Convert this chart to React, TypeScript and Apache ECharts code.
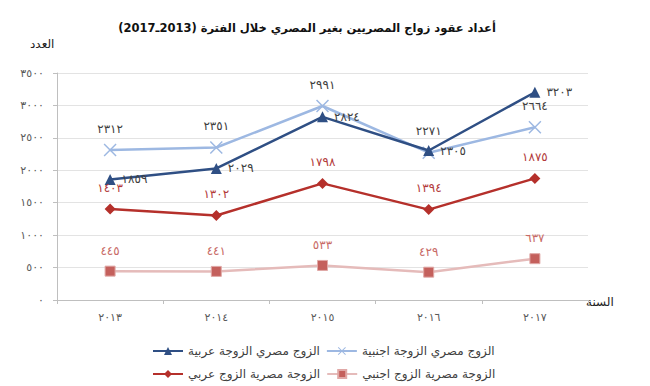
import React, { useEffect, useRef } from "react";
import * as echarts from "echarts";

const years = ["2013", "2014", "2015", "2016", "2017"];
const husbandEgyWifeArab = [1859, 2029, 2824, 2305, 3203];
const husbandEgyWifeForeign = [2312, 2351, 2991, 2271, 2664];
const wifeEgyHusbandArab = [1403, 1302, 1798, 1394, 1875];
const wifeEgyHusbandForeign = [445, 441, 533, 429, 637];
const yMin = 0;
const yMax = 3500;
const yStep = 500;

const names = [
  "الزوج مصري الزوجة عربية",
  "الزوج مصري الزوجة اجنبية",
  "الزوجة مصرية الزوج عربي",
  "الزوجة مصرية الزوج اجنبي",
];
const titleText = "أعداد عقود زواج المصريين بغير المصري خلال الفترة (2013ـ2017)";
const yName = "العدد";
const xName = "السنة";

const toArabicDigits = (v: number | string) =>
  String(v).replace(/[0-9]/g, (d) => String.fromCharCode(0x0660 + Number(d)));

const FONT = "'DejaVu Sans', sans-serif";
const xSymbol =
  "path://M0,0.8 L0.8,0 L5,4.2 L9.2,0 L10,0.8 L5.8,5 L10,9.2 L9.2,10 L5,5.8 L0.8,10 L0,9.2 L4.2,5 Z";

export default function App() {
  const ref = useRef<HTMLDivElement>(null);
  useEffect(() => {
    document.body.style.margin = "0";
    if (!ref.current) return;
    const chart = echarts.init(ref.current, undefined, { renderer: "svg" });
    const labelBase = {
      show: true,
      fontSize: 12,
      fontFamily: FONT,
      formatter: (p: any) => toArabicDigits(p.value),
    };
    const legendBase = {
      itemWidth: 30,
      itemHeight: 10,
      itemGap: 6,
      textStyle: { fontSize: 12, color: "#404040", fontFamily: FONT },
    };
    chart.setOption({
      animation: false,
      backgroundColor: "#ffffff",
      textStyle: { fontFamily: FONT },
      title: {
        text: "\u202B" + titleText + "\u202C",
        left: 302,
        textAlign: "center",
        top: 17,
        textStyle: { fontSize: 11.5, fontWeight: "bold", color: "#111", fontFamily: FONT },
      },
      grid: { left: 57, right: 62, top: 73, bottom: 86 },
      legend: [
        { ...legendBase, data: [names[0], names[1]], left: 147, top: 340 },
        { ...legendBase, data: [names[2], names[3]], left: 147, top: 363 },
      ],
      xAxis: {
        type: "category",
        data: years,
        boundaryGap: true,
        axisLine: { lineStyle: { color: "#BFBFBF" } },
        axisTick: { show: true, length: 4, lineStyle: { color: "#BFBFBF" } },
        axisLabel: {
          color: "#595959",
          fontSize: 11,
          margin: 12,
          formatter: (v: string) => toArabicDigits(v),
        },
      },
      yAxis: {
        type: "value",
        min: yMin,
        max: yMax,
        interval: yStep,
        axisLine: { show: true, lineStyle: { color: "#BFBFBF" } },
        axisTick: { show: true, length: 4, lineStyle: { color: "#BFBFBF" } },
        splitLine: { lineStyle: { color: "#E3E3E3" } },
        axisLabel: {
          color: "#595959",
          fontSize: 11,
          margin: 13,
          formatter: (v: number) => toArabicDigits(v),
        },
      },
      graphic: [
        {
          type: "text",
          left: 30,
          top: 38,
          style: { text: yName, fill: "#222", font: "12px " + FONT },
        },
        {
          type: "text",
          left: 586,
          top: 296,
          style: { text: xName, fill: "#222", font: "12px " + FONT },
        },
      ],
      series: [
        {
          name: names[0],
          type: "line",
          data: husbandEgyWifeArab,
          symbol: "triangle",
          symbolSize: 11,
          lineStyle: { color: "#2F4F84", width: 2.5 },
          itemStyle: { color: "#2F4F84" },
          label: { ...labelBase, position: "right", distance: 6, color: "#404040" },
          z: 3,
        },
        {
          name: names[1],
          type: "line",
          data: husbandEgyWifeForeign,
          symbol: xSymbol,
          symbolSize: 13,
          lineStyle: { color: "#9DB8E2", width: 2.5 },
          itemStyle: { color: "#9DB8E2" },
          label: { ...labelBase, position: "top", distance: 9, color: "#404040" },
          z: 2,
        },
        {
          name: names[2],
          type: "line",
          data: wifeEgyHusbandArab,
          symbol: "diamond",
          symbolSize: 11,
          lineStyle: { color: "#B5302B", width: 2.5 },
          itemStyle: { color: "#B5302B" },
          label: { ...labelBase, position: "top", distance: 10, color: "#B23A3A" },
        },
        {
          name: names[3],
          type: "line",
          data: wifeEgyHusbandForeign,
          symbol: "rect",
          symbolSize: 10,
          lineStyle: { color: "#E5BBBA", width: 2.5 },
          itemStyle: { color: "#C4605C", borderColor: "#E0A8A6", borderWidth: 1 },
          label: { ...labelBase, position: "top", distance: 9, color: "#C86A66" },
        },
      ],
    });
    return () => chart.dispose();
  }, []);
  return <div ref={ref} style={{ width: 650, height: 386 }} />;
}
